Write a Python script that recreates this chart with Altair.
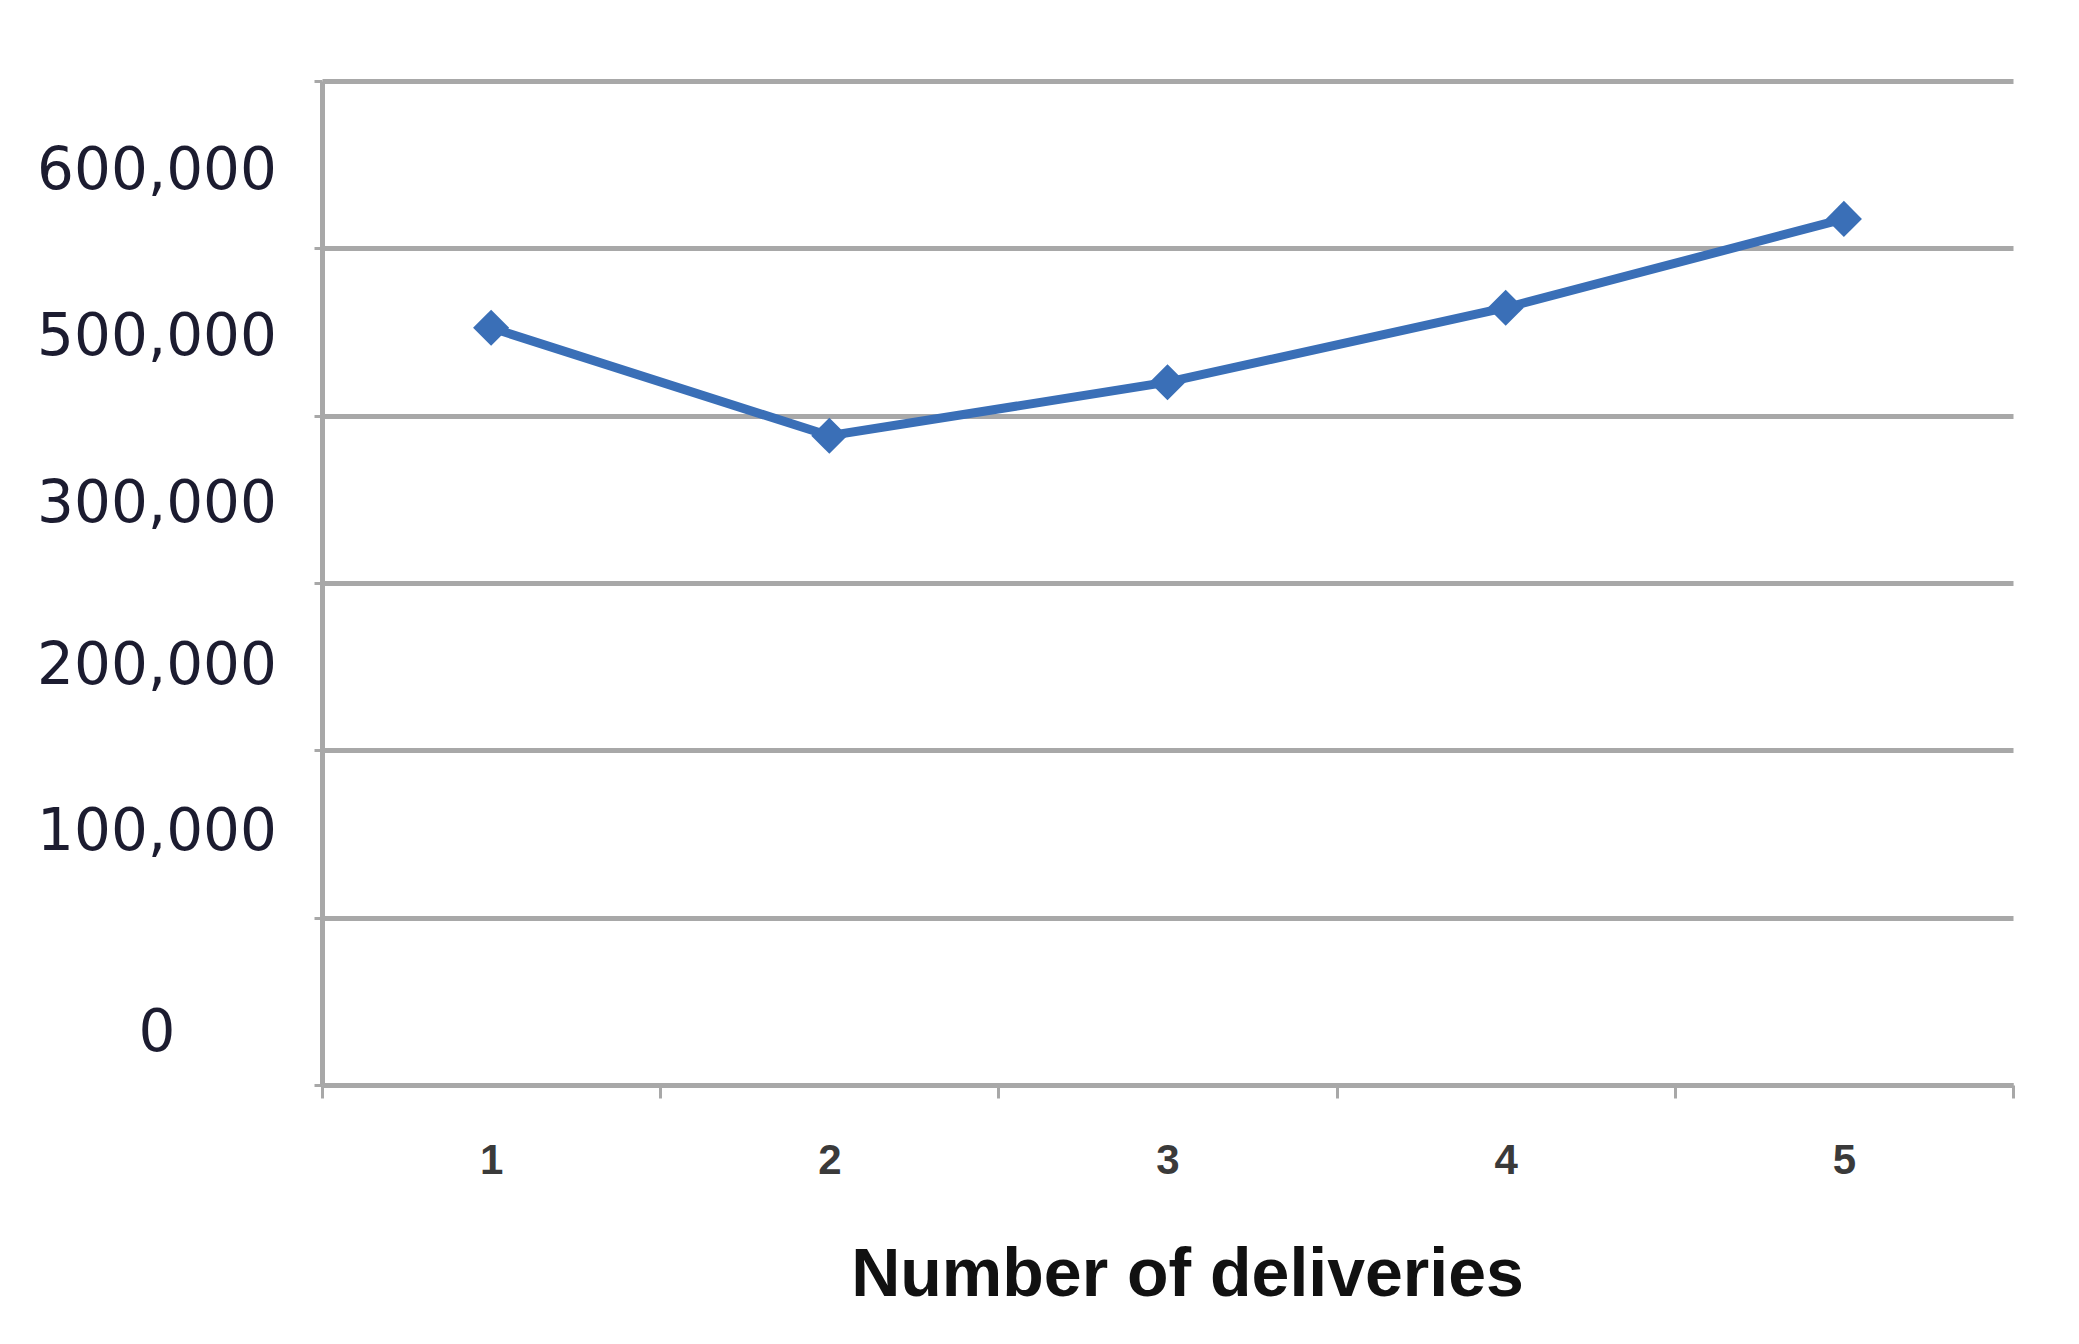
import altair as alt
import pandas as pd

# Data
deliveries = ["1", "2", "3", "4", "5"]
values = [452500, 388000, 420000, 464500, 517600]

# Y tick labels as printed in the reference, with the value level at which each sits
ylabel_text = ["600,000", "500,000", "300,000", "200,000", "100,000", "0"]
ylabel_level = [545700, 446600, 346900, 249600, 150400, 30400]

grid_values = [0, 100000, 200000, 300000, 400000, 500000, 600000]

df = pd.DataFrame({"deliveries": deliveries, "value": values})
lab = pd.DataFrame({"label": ylabel_text, "level": ylabel_level})

GRAY = "#a8a8a8"
BLUE = "#3a6fb7"

yscale = alt.Scale(domain=[0, 600000], nice=False, zero=True)
xscale = alt.Scale(type="band", paddingInner=0, paddingOuter=0)

x_enc = alt.X(
    "deliveries:O",
    scale=xscale,
    bandPosition=0.5,
    sort=deliveries,
    axis=alt.Axis(
        title="Number of deliveries",
        labelAngle=0,
        tickBand="extent",
        grid=False,
        domainColor=GRAY,
        domainWidth=5,
        tickColor=GRAY,
        tickWidth=3,
        tickSize=13,
        labelFont="Liberation Sans",
        labelFontSize=42,
        labelFontWeight="bold",
        labelColor="#3a3a3a",
        labelBaseline="middle",
        labelPadding=62,
        titleFont="Liberation Sans",
        titleFontSize=68,
        titleFontWeight="bold",
        titleColor="#111111",
        titleX=865,
        titleY=190,
        titleBaseline="middle",
        titleAlign="center",
    ),
)

y_axis = alt.Axis(
    title=None,
    values=grid_values,
    labels=False,
    grid=True,
    gridColor=GRAY,
    gridWidth=5,
    domainColor=GRAY,
    domainWidth=5,
    tickColor=GRAY,
    tickWidth=3,
    tickSize=8,
)

y_enc = alt.Y("value:Q", scale=yscale, axis=y_axis)

line = alt.Chart(df).mark_line(color=BLUE, strokeWidth=9).encode(x=x_enc, y=y_enc)
points = alt.Chart(df).mark_point(
    shape="diamond", filled=True, size=1300, color=BLUE, opacity=1
).encode(x=x_enc, y=y_enc)

labels = alt.Chart(lab).mark_text(
    font="DejaVu Sans",
    fontSize=58,
    align="center",
    baseline="middle",
    color="#1c1c30",
).encode(
    x=alt.value(-165),
    y=alt.Y("level:Q", scale=yscale, axis=y_axis),
    text="label:N",
)

chart = alt.layer(line, points, labels).properties(
    width=1691,
    height=1004,
    autosize=alt.AutoSizeParams(type="none"),
    padding={"left": 314, "top": 73, "right": 50, "bottom": 240},
    background="white",
).configure_view(stroke=None)

chart.save("out.html", embed_options={"renderer": "svg", "actions": False})
